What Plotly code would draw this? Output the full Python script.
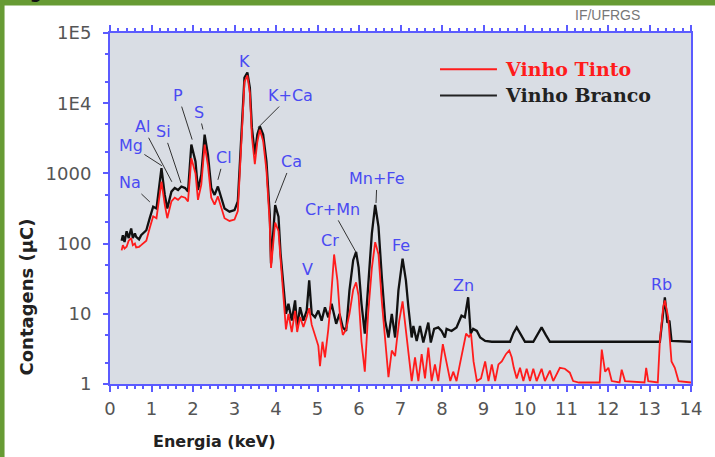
import math
import plotly.graph_objects as go

# ---------------- data ----------------
branco_x = [0.28, 0.31, 0.35, 0.40, 0.45, 0.51, 0.55, 0.60, 0.63, 0.70, 0.75, 0.80, 0.875, 0.956,
            1.04, 1.12, 1.24, 1.32, 1.38, 1.48, 1.56, 1.64, 1.72, 1.81, 1.88, 1.96, 2.06, 2.12,
            2.20, 2.28, 2.36, 2.44, 2.52, 2.60, 2.68, 2.76, 2.88, 3.00, 3.08, 3.16, 3.24, 3.31,
            3.37, 3.42, 3.49, 3.55, 3.61, 3.69, 3.77, 3.85, 3.88, 3.98, 4.06, 4.11, 4.18, 4.24,
            4.30, 4.38, 4.46, 4.51, 4.58, 4.66, 4.74, 4.80, 4.86, 4.94, 5.02, 5.10, 5.18, 5.26,
            5.34, 5.45, 5.53, 5.61, 5.69, 5.77, 5.86, 5.93, 5.99, 6.06, 6.14, 6.22, 6.31, 6.39,
            6.47, 6.55, 6.63, 6.71, 6.79, 6.87, 6.95, 7.05, 7.13, 7.19, 7.27, 7.31, 7.39, 7.47,
            7.55, 7.67, 7.73, 7.81, 7.91, 7.99, 8.07, 8.11, 8.23, 8.35, 8.47, 8.55, 8.63, 8.69,
            8.75, 8.84, 8.92, 9.04, 9.20, 9.64, 9.72, 9.80, 9.88, 10.00, 10.20, 10.32, 10.40,
            10.50, 10.60, 13.25, 13.31, 13.37, 13.43, 13.48, 13.53, 14.00]
branco_y = [110, 132, 105, 150, 120, 164, 120, 140, 125, 115, 132, 140, 155, 229,
            336, 316, 1190, 494, 316, 550, 618, 580, 650, 618, 550, 2570, 1475, 580,
            955, 3570, 1850, 618, 494, 650, 442, 316, 285, 300, 398, 3200, 23200, 27400,
            16600, 4450, 1850, 3570, 4700, 3570, 1475, 255, 52, 355, 241, 72, 21.5, 10,
            13.9, 8, 15.5, 6.4, 12.4, 8, 11.1, 30, 10, 8.9, 11.1, 8, 12.4, 8.9,
            13.9, 7.2, 10, 6.4, 5.7, 21.5, 58, 76, 46, 13.9, 5.2, 21.5, 140, 355,
            173, 33, 8, 4.6, 10, 4.6, 21.5, 61, 30, 12.4, 4.6, 6.7, 4.1, 6.7,
            3.9, 7.5, 3.9, 6.1, 6.4, 5.7, 4.6, 6.1, 5.7, 6.4, 9.4, 8.9, 17.2, 5.2,
            6.1, 5.7, 4.6, 4.1, 4.0, 4.0, 5.3, 6.4, 5.3, 4.0, 4.0, 5.3, 6.4,
            5.0, 4.0, 4.0, 9.0, 17.2, 7.5, 8.0, 4.1, 4.0]

tinto_x = [0.28, 0.31, 0.35, 0.40, 0.45, 0.51, 0.55, 0.60, 0.63, 0.70, 0.75, 0.80, 0.875, 0.956,
           1.04, 1.12, 1.24, 1.32, 1.38, 1.48, 1.56, 1.64, 1.72, 1.81, 1.88, 1.96, 2.06, 2.12,
           2.20, 2.28, 2.36, 2.44, 2.52, 2.60, 2.68, 2.76, 2.88, 3.00, 3.08, 3.16, 3.24, 3.31,
           3.37, 3.42, 3.49, 3.55, 3.61, 3.69, 3.77, 3.85, 3.88, 3.98, 4.06, 4.11, 4.18, 4.24,
           4.30, 4.38, 4.46, 4.51, 4.58, 4.66, 4.74, 4.80, 4.86, 4.94, 5.02, 5.06, 5.12, 5.18,
           5.26, 5.32, 5.40, 5.48, 5.55, 5.61, 5.69, 5.77, 5.86, 5.93, 5.99, 6.06, 6.14, 6.22,
           6.31, 6.39, 6.47, 6.55, 6.63, 6.71, 6.79, 6.87, 6.91, 6.97, 7.05, 7.13, 7.19, 7.27,
           7.35, 7.43, 7.51, 7.59, 7.67, 7.75, 7.83, 7.91, 8.02, 8.10, 8.20, 8.27, 8.35, 8.43,
           8.51, 8.58, 8.65, 8.70, 8.76, 8.84, 8.94, 9.04, 9.12, 9.20, 9.28, 9.36, 9.44, 9.54,
           9.62, 9.68, 9.73, 9.80, 9.88, 9.96, 10.04, 10.12, 10.20, 10.28, 10.40, 10.48, 10.60,
           10.68, 10.84, 10.96, 11.08, 11.16, 11.30, 11.80, 11.85, 11.93, 12.01, 12.09, 12.28,
           12.33, 12.41, 12.88, 12.92, 12.97, 13.20, 13.25, 13.33, 13.37, 13.45, 13.53, 13.61,
           13.70, 14.00]
tinto_y = [80, 95, 85, 90, 110, 120, 95, 100, 88, 90, 95, 100, 110, 165,
           245, 230, 765, 360, 230, 400, 450, 420, 470, 450, 400, 1650, 1000, 420,
           690, 2570, 1300, 450, 360, 470, 320, 230, 210, 220, 290, 2500, 20000, 25000,
           14000, 3300, 1350, 2800, 4200, 2900, 1100, 190, 45, 200, 150, 60, 18, 6,
           10, 5.5, 11, 5.5, 9, 6.5, 9, 12, 7, 5, 3.5, 1.8, 4, 2.4,
           6, 15, 70, 30, 8, 5, 6, 10, 22, 28, 18, 4, 1.5, 10,
           45, 105, 70, 15, 4, 1.25, 3, 2.5, 4.1, 8, 15, 6, 2.5, 1.1,
           2.4, 1.1, 2.66, 1.2, 3.3, 1.1, 1.9, 1.1, 3.7, 2.1, 1.1, 1.5, 1.1, 1.9,
           3.3, 5.2, 4.7, 5.2, 2.1, 1.1, 1.2, 2.1, 1.1, 1.9, 1.1, 1.9, 2.1, 2.66,
           3.0, 2.4, 1.7, 1.2, 1.7, 1.1, 1.65, 1.1, 1.65, 1.1, 1.65, 1.1, 1.55,
           1.1, 1.7, 1.65, 1.45, 1.1, 1.05, 1.05, 3.1, 1.5, 1.7, 1.1, 1.05,
           1.6, 1.1, 1.05, 1.7, 1.1, 1.05, 4.1, 12.4, 15.5, 9, 2.1, 1.7,
           1.1, 1.05]

series_names = ["Vinho Tinto", "Vinho Branco"]
x_tickvals = list(range(0, 15))
y_tickvals = [1, 10, 100, 1000, 1e4, 1e5]
y_ticktext = ["1", "10", "100", "1000", "1E4", "1E5"]

# element labels: (text, x_keV, y_counts, arrow offset dx, dy in px)
peak_labels = [
    ("Na", 0.96, 392, -20, -19),
    ("Mg", 1.25, 1285, -31, -20),
    ("Al", 1.49, 760, -29, -55),
    ("Si", 1.71, 733, -17, -51),
    ("P", 1.98, 3030, -14, -44),
    ("S", 2.24, 4220, -4, -17),
    ("Cl", 2.60, 810, 6, -22),
    ("K+Ca", 3.57, 4500, 32, -32),
    ("Ca", 3.98, 379, 16, -41),
    ("Cr+Mn", 5.93, 75, -24, -43),
    ("Mn+Fe", 6.41, 379, 1, -24),
]
free_labels = [
    ("K", 3.23, 39500),
    ("Cr", 5.30, 112),
    ("V", 4.77, 43),
    ("Fe", 7.01, 95),
    ("Zn", 8.51, 25.4),
    ("Rb", 13.30, 26),
]

# ---------------- figure ----------------
AX_BLUE = "#5b5bff"
LBL_BLUE = "#4a4af2"
GREEN = "#679b34"
LBL_FONT = dict(family="DejaVu Sans", size=16, color=LBL_BLUE)

fig = go.Figure()
fig.add_trace(go.Scatter(x=branco_x, y=branco_y, mode="lines", name=series_names[1],
                         line=dict(color="#111111", width=2.3), showlegend=False))
fig.add_trace(go.Scatter(x=tinto_x, y=tinto_y, mode="lines", name=series_names[0],
                         line=dict(color="#ff1c1c", width=1.8), showlegend=False))

annotations = []
for t, xv, yv, dx, dy in peak_labels:
    annotations.append(dict(x=xv, y=math.log10(yv), xref="x", yref="y", text=t,
                            showarrow=True, arrowhead=0, arrowwidth=1, arrowcolor="#333333",
                            ax=dx, ay=dy, standoff=0, font=LBL_FONT))
for t, xv, yv in free_labels:
    annotations.append(dict(x=xv, y=math.log10(yv), xref="x", yref="y", text=t,
                            showarrow=False, font=LBL_FONT))

# legend (drawn manually)
leg_rows = [(series_names[0], "#ff1c1c", 0.897), (series_names[1], "#222222", 0.822)]
shapes = []
for name, col, yp in leg_rows:
    shapes.append(dict(type="line", xref="paper", yref="paper", x0=0.568, x1=0.666,
                       y0=yp, y1=yp, line=dict(color=col, width=2)))
    annotations.append(dict(x=0.676, y=yp, xref="paper", yref="paper", text="<b>%s</b>" % name,
                            showarrow=False, xanchor="left", yanchor="middle",
                            font=dict(family="DejaVu Serif", size=19, color=col)))

# frame decoration (green border)
shapes.append(dict(type="rect", xref="paper", yref="paper", x0=-0.2, x1=1.1, y0=1.078, y1=1.12,
                   fillcolor=GREEN, line=dict(width=0), layer="below"))
shapes.append(dict(type="rect", xref="paper", yref="paper", x0=-0.2, x1=-0.1815, y0=-0.3, y1=1.12,
                   fillcolor=GREEN, line=dict(width=0), layer="below"))

annotations.append(dict(x=0.0, y=1.082, xref="paper", yref="paper", text="<b>ig - 3 :</b>",
                        showarrow=False, xanchor="left", yanchor="bottom", xshift=-88,
                        font=dict(family="DejaVu Sans", size=17, color="#111111")))
annotations.append(dict(x=(607 - 110) / 581, y=(383 - 16) / 349, xref="paper", yref="paper",
                        text="IF/UFRGS", showarrow=False, xanchor="center", yanchor="middle",
                        font=dict(family="Liberation Sans", size=14, color="#777777")))
annotations.append(dict(x=(214 - 110) / 581, y=(383 - 440) / 349, xref="paper", yref="paper",
                        text="<b>Energia (keV)</b>", showarrow=False, xanchor="center", yanchor="middle",
                        font=dict(family="DejaVu Sans", size=16, color="#222222")))
annotations.append(dict(x=(27 - 110) / 581, y=(383 - 297) / 349, xref="paper", yref="paper",
                        text="<b>Contagens (µC)</b>", showarrow=False, textangle=-90,
                        xanchor="center", yanchor="middle",
                        font=dict(family="DejaVu Sans", size=18, color="#222222")))

fig.update_layout(
    width=715, height=457,
    margin=dict(l=110, r=24, t=33, b=73, autoexpand=False),
    paper_bgcolor="white", plot_bgcolor="#d9dde4",
    showlegend=False,
    annotations=annotations, shapes=shapes,
)
fig.update_xaxes(range=[0, 14], tickvals=x_tickvals, showgrid=False, zeroline=False,
                 showline=True, linecolor=AX_BLUE, linewidth=2, mirror="ticks",
                 ticks="outside", ticklen=6, tickwidth=1.5, tickcolor=AX_BLUE,
                 ticklabelstandoff=1,
                 minor=dict(dtick=0.2, ticks="outside", ticklen=3, tickcolor=AX_BLUE, showgrid=False),
                 tickfont=dict(family="DejaVu Sans", size=18, color="#555555"))
fig.update_yaxes(type="log", range=[0, 5], tickvals=y_tickvals, ticktext=y_ticktext,
                 showgrid=False, zeroline=False,
                 showline=True, linecolor=AX_BLUE, linewidth=2, mirror=True,
                 ticks="outside", ticklen=5, tickwidth=1.5, tickcolor=AX_BLUE,
                 ticklabelstandoff=8,
                 minor=dict(ticks="outside", ticklen=3, tickcolor=AX_BLUE, showgrid=False),
                 tickfont=dict(family="DejaVu Sans", size=18, color="#555555"))

fig.write_html("out.html", config={"displayModeBar": False},
               post_script="document.body.style.margin='0px';")
